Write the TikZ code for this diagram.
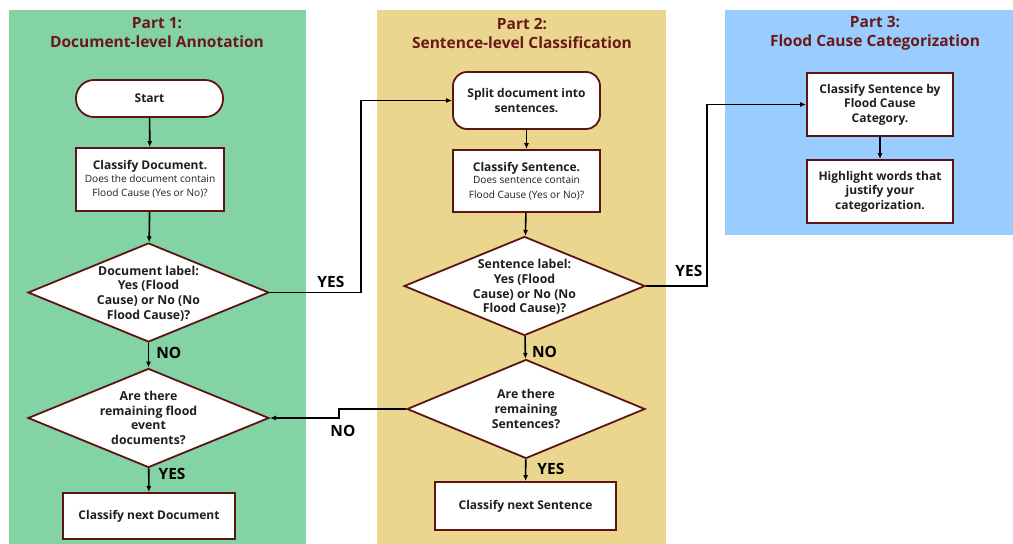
\documentclass[tikz,border=0pt]{standalone}
\usepackage{fontspec}
\setmainfont{Open Sans}
\usetikzlibrary{shapes.geometric,arrows.meta}
\definecolor{pgreen}{HTML}{83D3A4}
\definecolor{pyellow}{HTML}{EAD68E}
\definecolor{pblue}{HTML}{99CCFF}
\definecolor{bord}{HTML}{5E1414}
\definecolor{ttl}{HTML}{6A1818}
\definecolor{txt}{HTML}{1E1E1E}
\newcommand{\smtxt}{\fontsize{10.1}{12}\selectfont\mdseries}
\begin{document}
\begin{tikzpicture}[x=1pt,y=-1pt,
  every node/.style={text=txt},
  ttlnode/.style={text=ttl,font=\fontsize{15.5}{19}\selectfont\bfseries,align=center},
  boxnode/.style={draw=bord,line width=1.8pt,fill=white,align=center,inner sep=2pt,
     font=\fontsize{12}{14.5}\selectfont\bfseries},
  dianode/.style={shape=diamond,draw=bord,line width=1.8pt,fill=white,inner sep=0pt,
     minimum width=241pt,minimum height=99pt},
  dtext/.style={align=center,font=\fontsize{12.3}{14.7}\selectfont\bfseries},
  lbl/.style={font=\fontsize{15.5}{18}\selectfont\bfseries,text=black,inner sep=1pt},
  arr/.style={draw=black,line width=1.6pt,-{Latex[length=6pt,width=5pt]}}]
\useasboundingbox (0,0) rectangle (1013,544);
\fill[pgreen] (9,10) rectangle (306,544);
\fill[pyellow] (377,10) rectangle (666,544);
\fill[pblue] (725,10) rectangle (1013,235);

\node[ttlnode] (t1) at (157,33) {Part 1:\\Document-level Annotation};
\node[ttlnode] (t2) at (522,33) {Part 2:\\Sentence-level Classification};
\node[ttlnode] (t3) at (875,33) {Part 3:\\Flood Cause Categorization};

% Part 1
\node[boxnode,rounded corners=18pt,minimum width=147pt,minimum height=37pt] (start) at (149.5,98.5) {Start};
\node[boxnode,minimum width=148pt,minimum height=63pt] (cd) at (150,179.5)
  {Classify Document.\\[-2pt]\smtxt Does the document contain\\\smtxt Flood Cause (Yes or No)?};
\node[dianode] (d1) at (148.5,292.5) {};
\node[dtext] (d1t) at ([yshift=-1pt]d1.center) {Document label:\\Yes (Flood\\Cause) or No (No\\Flood Cause)?};
\node[dianode] (d2) at (148.5,418) {};
\node[dtext] (d2t) at (d2.center) {Are there\\remaining flood\\event\\documents?};
\node[boxnode,minimum width=172pt,minimum height=46pt] (cnd) at (149,516) {Classify next Document};

% Part 2
\node[boxnode,rounded corners=14pt,minimum width=147pt,minimum height=57pt] (split) at (526.5,100.5) {Split document into\\sentences.};
\node[boxnode,minimum width=147pt,minimum height=62pt] (cs) at (526.5,181)
  {Classify Sentence.\\[-2pt]\smtxt Does sentence contain\\\smtxt Flood Cause (Yes or No)?};
\node[dianode] (d3) at (524.5,286) {};
\node[dtext] (d3t) at ([yshift=-1pt]d3.center) {Sentence label:\\Yes (Flood\\Cause) or No (No\\Flood Cause)?};
\node[dianode,minimum width=238pt] (d4) at (526,409) {};
\node[dtext] (d4t) at (d4.center) {Are there\\remaining\\Sentences?};
\node[boxnode,minimum width=181pt,minimum height=48pt] (cns) at (525.5,506) {Classify next Sentence};

% Part 3
\node[boxnode,minimum width=146pt,minimum height=63pt] (cs3) at (880,104.5) {Classify Sentence by\\Flood Cause\\Category.};
\node[boxnode,minimum width=146pt,minimum height=63pt] (hl) at (880,191.5) {Highlight words that\\justify your\\categorization.};

% connectors
\draw[arr] (start) -- (cd);
\draw[arr] (cd) -- (d1);
\draw[arr] (d1) -- node[lbl,pos=0.4,right=6pt]{NO} (d2);
\draw[arr] (d2) -- node[lbl,pos=0.25,right=8pt]{YES} (cnd);
\draw[arr] (split) -- (cs);
\draw[arr] (cs) -- (d3);
\draw[arr] (d3) -- node[lbl,pos=0.7,right=5pt]{NO} (d4);
\draw[arr] (d4) -- node[lbl,pos=0.45,right=10pt]{YES} (cns);
\draw[arr] (cs3) -- (hl);

\coordinate (y1) at ([xshift=-91pt]split.west);
\draw[arr] (d1.east) -| node[lbl,pos=0.5,anchor=south east,xshift=-15pt,yshift=3pt]{YES} (y1) -- (split.west);
\coordinate (y2) at ([xshift=-99pt]cs3.west);
\draw[arr] (d3.east) -| node[lbl,pos=0.5,anchor=south east,xshift=-3pt,yshift=8pt]{YES} (y2) -- (cs3.west);
\coordinate (n1) at ([xshift=69pt]d2.east);
\draw[arr] (d4.west) -| (n1) -- node[lbl,pos=0.0,anchor=north,yshift=-5pt,xshift=4pt]{NO} (d2.east);
\end{tikzpicture}
\end{document}
